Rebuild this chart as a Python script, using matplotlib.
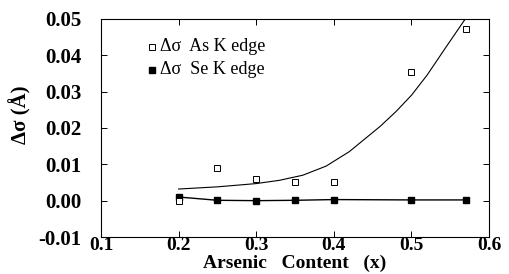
import matplotlib.pyplot as plt

# arsenic content x
x_as = [0.20, 0.25, 0.30, 0.35, 0.40, 0.50, 0.57]
dsig_as = [0.0000, 0.0091, 0.0060, 0.0052, 0.0052, 0.0354, 0.0473]

x_se = [0.20, 0.25, 0.30, 0.35, 0.40, 0.50, 0.57]
dsig_se = [0.0010, 0.0001, 0.0000, 0.0001, 0.0003, 0.0002, 0.0002]

# fitted curve through the As points
fit_x = [0.20, 0.25, 0.30, 0.33, 0.36, 0.39, 0.42, 0.44, 0.46, 0.48, 0.50, 0.52, 0.545, 0.57, 0.576]
fit_y = [0.0032, 0.0038, 0.0047, 0.0056, 0.0070, 0.0095, 0.0135, 0.0170, 0.0205, 0.0245, 0.0290, 0.0345, 0.0424, 0.0502, 0.0520]

xticks = [0.1, 0.2, 0.3, 0.4, 0.5, 0.6]
yticks = [-0.01, 0.0, 0.01, 0.02, 0.03, 0.04, 0.05]

plt.rcParams['font.family'] = ['Liberation Serif', 'DejaVu Serif']

fig = plt.figure(figsize=(5.10, 2.74), dpi=100)
ax = fig.add_axes([0.198, 0.135, 0.761, 0.796])

ax.plot(fit_x, fit_y, color='black', lw=0.8)
ax.plot(x_se, dsig_se, color='black', lw=1.0, marker='s', ms=4, mfc='black', mec='black')
ax.plot(x_as, dsig_as, ls='none', marker='s', ms=4, mfc='white', mec='black', mew=0.7)

ax.set_xlim(0.1, 0.6)
ax.set_ylim(-0.01, 0.05)
ax.set_xticks(xticks)
ax.set_yticks(yticks)
ax.set_xticklabels(['%.1f' % v for v in xticks], fontsize=14, fontweight='bold')
ax.set_yticklabels(['%.2f' % v for v in yticks], fontsize=15, fontweight='bold')
ax.tick_params(direction='in', top=True, right=True, length=4, width=0.7)
ax.tick_params(axis='y', pad=14)
ax.tick_params(axis='x', pad=0)
for s in ax.spines.values():
    s.set_linewidth(0.8)

ax.set_xlabel('Arsenic   Content   (x)', fontsize=14, fontweight='bold')
ax.xaxis.set_label_coords(0.5, -0.08)
ax.xaxis.label.set_va('top')
ax.set_ylabel('Δσ (Å)', fontsize=15, fontweight='bold')
ax.yaxis.set_label_coords(-0.18, 0.56)

# legend drawn by hand to match the original layout
ax.plot([0.166], [0.0423], ls='none', marker='s', ms=4, mfc='white', mec='black', mew=0.7)
ax.plot([0.166], [0.0360], ls='none', marker='s', ms=4, mfc='black', mec='black')
ax.text(0.176, 0.0423, 'Δσ  As K edge', fontsize=13, va='center')
ax.text(0.176, 0.0360, 'Δσ  Se K edge', fontsize=13, va='center')

fig.savefig('out.png', dpi=100)
